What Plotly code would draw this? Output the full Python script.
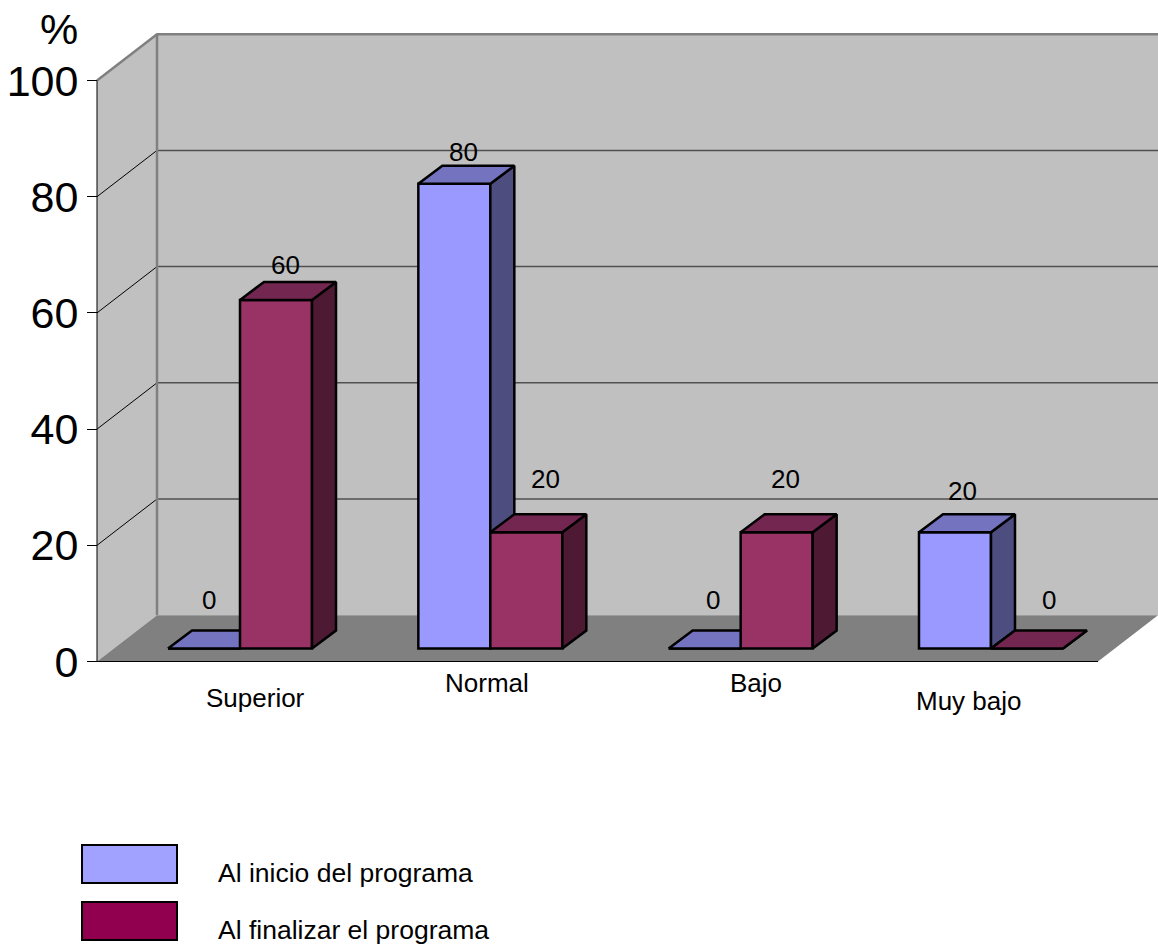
import plotly.graph_objects as go

# ---- data ----
categories = ["Superior", "Normal", "Bajo", "Muy bajo"]
inicio = [0, 80, 0, 20]
finalizar = [60, 20, 20, 0]
y_ticks = [0, 20, 40, 60, 80, 100]
series_names = ["Al inicio del programa", "Al finalizar el programa"]

# ---- styling ----
W, H = 1158, 944
FONT = "Liberation Sans, Arial, sans-serif"
PX_CAT = 250.33          # pixels per category
PX_VAL = 5.81            # pixels per percentage point
X0_PX, Y0_PX = 240.0, 661.5   # pixel of category 0 boundary, pixel of value 0
AXIS_PX = 97.0

BAR_W = 72 / PX_CAT
BAR_DX, BAR_DY = 24 / PX_CAT, 18 / PX_VAL
FLOOR_DX, FLOOR_DY = 60 / PX_CAT, 46.3 / PX_VAL
BAR_BASE = 13 / PX_VAL
LEFT = (AXIS_PX - X0_PX) / PX_CAT
RIGHT = LEFT + 1001 / PX_CAT

COLORS = [
    dict(front="#9999FF", top="#7373BF", side="#4D4D80"),
    dict(front="#993366", top="#732650", side="#4D1933"),
]
LEGEND_COLORS = ["#A1A1FF", "#91004E"]

fig = go.Figure()


def poly(xs, ys, fill, line="black", width=2.5, z=0):
    fig.add_trace(go.Scatter(
        x=xs, y=ys, mode="lines", fill="toself" if fill else None,
        fillcolor=fill, line=dict(color=line, width=width),
        hoverinfo="skip", showlegend=False, zorder=z))


TOP = 100
# walls and floor
poly([LEFT, LEFT + FLOOR_DX, LEFT + FLOOR_DX, LEFT, LEFT],
     [TOP, TOP + FLOOR_DY, FLOOR_DY, 0, TOP], "#C0C0C0", "rgba(0,0,0,0)", 0, 0)
poly([LEFT + FLOOR_DX, RIGHT + FLOOR_DX, RIGHT + FLOOR_DX, LEFT + FLOOR_DX, LEFT + FLOOR_DX],
     [TOP + FLOOR_DY, TOP + FLOOR_DY, FLOOR_DY, FLOOR_DY, TOP + FLOOR_DY],
     "#C0C0C0", "rgba(0,0,0,0)", 0, 0)
poly([LEFT, RIGHT, RIGHT + FLOOR_DX, LEFT + FLOOR_DX, LEFT],
     [0, 0, FLOOR_DY, FLOOR_DY, 0], "#808080", "rgba(0,0,0,0)", 0, 1)

# gridlines
for t in y_ticks[1:-1]:
    poly([LEFT, LEFT + FLOOR_DX], [t, t + FLOOR_DY], None, "black", 1, 1)
    poly([LEFT + FLOOR_DX, RIGHT + FLOOR_DX], [t + FLOOR_DY, t + FLOOR_DY], None, "#505050", 1.5, 1)

# wall edges
poly([LEFT, LEFT + FLOOR_DX, RIGHT + FLOOR_DX], [TOP, TOP + FLOOR_DY, TOP + FLOOR_DY], None, "#808080", 2.5, 2)
poly([LEFT + FLOOR_DX, LEFT + FLOOR_DX], [TOP + FLOOR_DY, FLOOR_DY], None, "#808080", 2.5, 2)
poly([LEFT, LEFT, RIGHT], [TOP, 0, 0], None, "black", 1, 2)

# bars
z = 3
for i in range(len(categories)):
    for s, vals in enumerate([inicio, finalizar]):
        v = vals[i]
        x_l = i - BAR_W if s == 0 else i
        x_r = x_l + BAR_W
        b = BAR_BASE
        c = COLORS[s]
        poly([x_r, x_r + BAR_DX, x_r + BAR_DX, x_r, x_r],
             [b, b + BAR_DY, b + BAR_DY + v, b + v, b], c["side"], z=z)
        poly([x_l, x_l + BAR_DX, x_r + BAR_DX, x_r, x_l],
             [b + v, b + v + BAR_DY, b + v + BAR_DY, b + v, b + v], c["top"], z=z)
        fig.add_trace(go.Bar(
            x=[x_l + BAR_W / 2], y=[v], base=[b], width=[BAR_W],
            marker=dict(color=c["front"], line=dict(color="black", width=2.5)),
            name=series_names[s], showlegend=False, hoverinfo="skip", zorder=z))
        z += 1

# value labels: pixel nudges off each bar's top centre
label_dx = [[5, 9], [9, 19], [8, 9], [8, 22]]
label_dy = [[49, 35], [32, 53], [49, 53], [41, 49]]
annotations = []
for i in range(len(categories)):
    for s, vals in enumerate([inicio, finalizar]):
        x_l = i - BAR_W if s == 0 else i
        annotations.append(dict(
            x=x_l + BAR_W / 2, y=BAR_BASE + vals[i], xref="x", yref="y",
            text=str(vals[i]), showarrow=False,
            xshift=label_dx[i][s], yshift=label_dy[i][s],
            font=dict(family=FONT, size=26, color="black")))

# category labels, placed individually as in the picture
cat_px = [(255, 698), (487, 683), (756, 683), (969, 701)]
for name, (px, py) in zip(categories, cat_px):
    annotations.append(dict(x=px / W, y=1 - py / H, xref="paper", yref="paper",
                            xanchor="center", yanchor="middle",
                            text=name, showarrow=False,
                            font=dict(family=FONT, size=26, color="black")))

annotations.append(dict(x=59 / W, y=1 - 29 / H, xref="paper", yref="paper", text="%",
                        xanchor="center", yanchor="middle",
                        showarrow=False, font=dict(family=FONT, size=43, color="black")))

# legend
shapes = []
legend_y = [(845, 883), (902, 940)]
legend_text_y = [873, 930]
for name, col, (y0, y1), ty in zip(series_names, LEGEND_COLORS, legend_y, legend_text_y):
    shapes.append(dict(type="rect", xref="paper", yref="paper",
                       x0=82 / W, x1=177 / W, y0=1 - y1 / H, y1=1 - y0 / H,
                       fillcolor=col, line=dict(color="black", width=2)))
    annotations.append(dict(x=216 / W, y=1 - ty / H, xref="paper", yref="paper",
                            xanchor="left", yanchor="middle", text=name, showarrow=False,
                            font=dict(family=FONT, size=26.5, color="black")))

fig.update_layout(
    width=W, height=H, margin=dict(l=0, r=0, t=0, b=0),
    paper_bgcolor="white", plot_bgcolor="white",
    barmode="overlay", showlegend=False,
    annotations=annotations, shapes=shapes,
    xaxis=dict(range=[-X0_PX / PX_CAT, (W - X0_PX) / PX_CAT], visible=False,
               domain=[0, 1], fixedrange=True),
    yaxis=dict(range=[(Y0_PX - H) / PX_VAL, Y0_PX / PX_VAL],
               tickvals=y_ticks, ticktext=[str(t) for t in y_ticks],
               ticks="outside", ticklen=10, tickwidth=1, tickcolor="black",
               tickfont=dict(family=FONT, size=43, color="black"),
               showgrid=False, zeroline=False, showline=False,
               anchor="free", position=AXIS_PX / W, fixedrange=True),
)

fig.write_html("out.html", config=dict(displayModeBar=False),
               post_script="document.body.style.margin='0';")
